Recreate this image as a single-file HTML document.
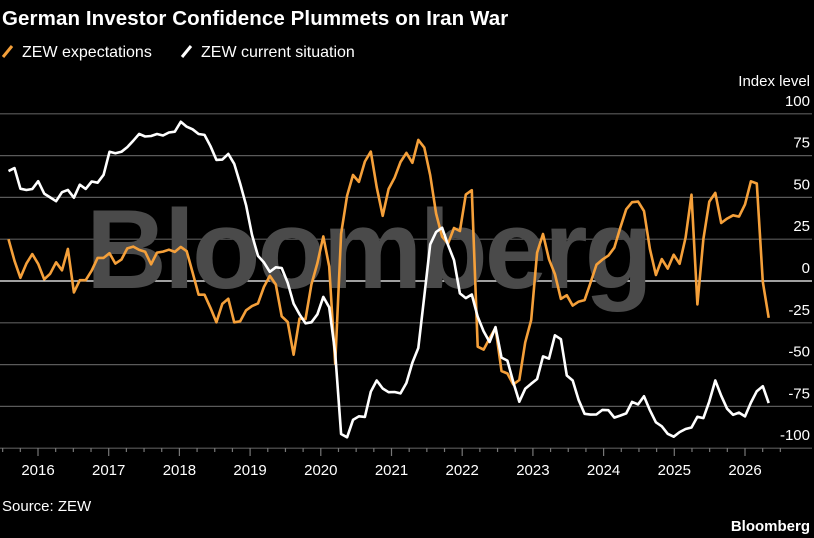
<!DOCTYPE html>
<html><head><meta charset="utf-8"><style>
body{margin:0;background:#000;width:814px;height:538px;overflow:hidden;font-family:"Liberation Sans",sans-serif;}
svg{position:absolute;left:0;top:0}
</style></head><body>
<svg id="c" width="814" height="538">
<text x="2" y="25" fill="#fff" font-size="20.5" font-weight="bold" letter-spacing="0.1">German Investor Confidence Plummets on Iran War</text>
<g>
<line x1="3" y1="57" x2="12" y2="46" stroke="#f5a03a" stroke-width="3"/>
<text x="22" y="57" fill="#fff" font-size="16">ZEW expectations</text>
<line x1="182" y1="57" x2="191" y2="46" stroke="#fff" stroke-width="3"/>
<text x="201" y="57" fill="#fff" font-size="16">ZEW current situation</text>
</g>
<text x="810" y="86" fill="#fff" font-size="15" text-anchor="end">Index level</text>
<g id="grid"></g>
<text x="368" y="288" fill="#4a4a4a" font-size="112" font-weight="bold" text-anchor="middle" letter-spacing="-3">Bloomberg</text>
<g id="series"></g>
<g id="xaxis"></g>
<text x="2" y="511" fill="#fff" font-size="15">Source: ZEW</text>
<text x="810" y="531" fill="#fff" font-size="15" font-weight="bold" text-anchor="end">Bloomberg</text>
</svg>
<script>
const yTicks=[100,75,50,25,0,-25,-50,-75,-100];
const yTickLabels=["100","75","50","25","0","-25","-50","-75","-100"];
const years=[2016,2017,2018,2019,2020,2021,2022,2023,2024,2025,2026];
const startYear=2015, startMonth=8;
const expectations=[25,12.1,1.9,10.4,16.1,
10.2,1.0,4.3,11.2,6.4,19.2,-6.8,0.5,0.5,6.2,13.8,13.8,
16.6,10.4,12.8,19.5,20.6,18.6,17.5,10.0,17.0,17.6,18.7,17.4,
20.4,17.8,5.1,-8.2,-8.2,-16.1,-24.7,-13.7,-10.6,-24.7,-24.1,-17.5,
-15.0,-13.4,-3.6,3.1,-2.1,-21.1,-24.5,-44.1,-22.5,-22.8,-2.1,10.7,
26.7,8.7,-49.5,28.2,51.0,63.4,59.3,71.5,77.4,56.1,39.0,55.0,
61.8,71.2,76.6,70.7,84.4,79.8,63.3,40.4,26.5,22.3,31.7,29.9,
51.7,54.3,-39.3,-41.0,-34.3,-28.0,-53.8,-55.3,-61.9,-59.2,-36.7,-23.3,
16.9,28.1,13.0,4.1,-10.7,-8.5,-14.7,-12.3,-11.4,-1.1,9.8,12.8,
15.2,19.9,31.7,42.9,47.1,47.5,41.8,19.2,3.6,13.1,7.4,15.7,
10.3,26.0,51.6,-14.0,25.2,47.5,52.7,34.7,37.3,39.3,38.5,45.8,
59.6,58.3,-0.5,-22];
const current=[65.7,67.5,55.2,54.4,55.0,
59.7,52.3,50.0,47.7,53.1,54.5,49.8,57.6,55.1,59.5,58.8,63.5,
77.3,76.4,77.3,80.1,83.9,88.0,86.4,86.7,87.9,87.0,88.8,89.3,
95.2,92.3,90.7,87.9,87.4,80.6,72.4,72.6,76.0,70.1,58.2,45.3,
27.6,15.0,11.1,5.5,8.2,7.8,-1.1,-13.5,-19.9,-25.3,-24.7,-19.9,
-9.5,-15.7,-43.1,-91.5,-93.5,-83.1,-80.9,-81.3,-66.2,-59.5,-64.3,-66.5,
-66.4,-67.2,-61.0,-48.8,-40.1,-9.1,21.9,29.3,31.9,21.6,12.5,-7.4,
-10.2,-8.1,-21.4,-30.1,-36.5,-27.6,-45.8,-47.6,-60.5,-72.2,-64.5,-61.4,
-58.6,-45.1,-46.5,-32.5,-34.8,-56.5,-59.5,-71.3,-79.4,-79.9,-79.8,-77.1,
-77.3,-81.7,-80.5,-79.2,-72.3,-73.8,-68.9,-77.3,-84.5,-86.9,-91.4,-93.1,
-90.4,-88.5,-87.6,-81.2,-82.0,-72.0,-59.5,-68.6,-76.4,-80.0,-78.7,-81.0,
-72.7,-65.9,-62.9,-73];
const NS="http://www.w3.org/2000/svg";
const y=v=>281-v*1.672;
const x=t=>38+(t-2016)*70.7;
const tm=i=>startYear+(startMonth-1+i*1.008)/12;
function mk(tag,attrs,parent){const e=document.createElementNS(NS,tag);for(const k in attrs)e.setAttribute(k,attrs[k]);document.getElementById(parent).appendChild(e);return e;}
yTicks.forEach((v,i)=>{
  const l=mk('line',{x1:0,x2:812,y1:y(v),y2:y(v),stroke:v===0?'#fff':'#5a5a5a','stroke-width':v===0?1.3:1.2},'grid');
  
  
  const t=mk('text',{x:810,y:y(v)-8,fill:'#fff','font-size':15,'text-anchor':'end','font-family':'Liberation Sans, sans-serif'},'grid');
  t.textContent=yTickLabels[i];
  
  
});
for(let q=0;q<48;q++){
  const t=2015.5+q*0.25;
  if(x(t)<0||x(t)>790)continue;
  const major=Math.abs(t-Math.round(t))<0.01;
  const tk=mk('line',{x1:x(t),x2:x(t),y1:448,y2:major?456:452,stroke:'#777','stroke-width':1.2},'xaxis');
  
  
}
years.forEach(yr=>{
  const t=mk('text',{x:x(yr),y:475,fill:'#fff','font-size':15,'text-anchor':'middle'},'xaxis');
  t.textContent=String(yr);
  
  
});
function line(data,color,name){
  const d=data.map((v,i)=>(i?'L':'M')+x(tm(i)).toFixed(1)+','+y(v).toFixed(1)).join('');
  const p=mk('path',{d:d,fill:'none',stroke:color,'stroke-width':2.6,'stroke-linejoin':'round'},'series');
  
  
}
line(expectations,'#f5a03a','line-zew-expectations');
line(current,'#ffffff','line-zew-current-situation');
</script>
</body></html>
